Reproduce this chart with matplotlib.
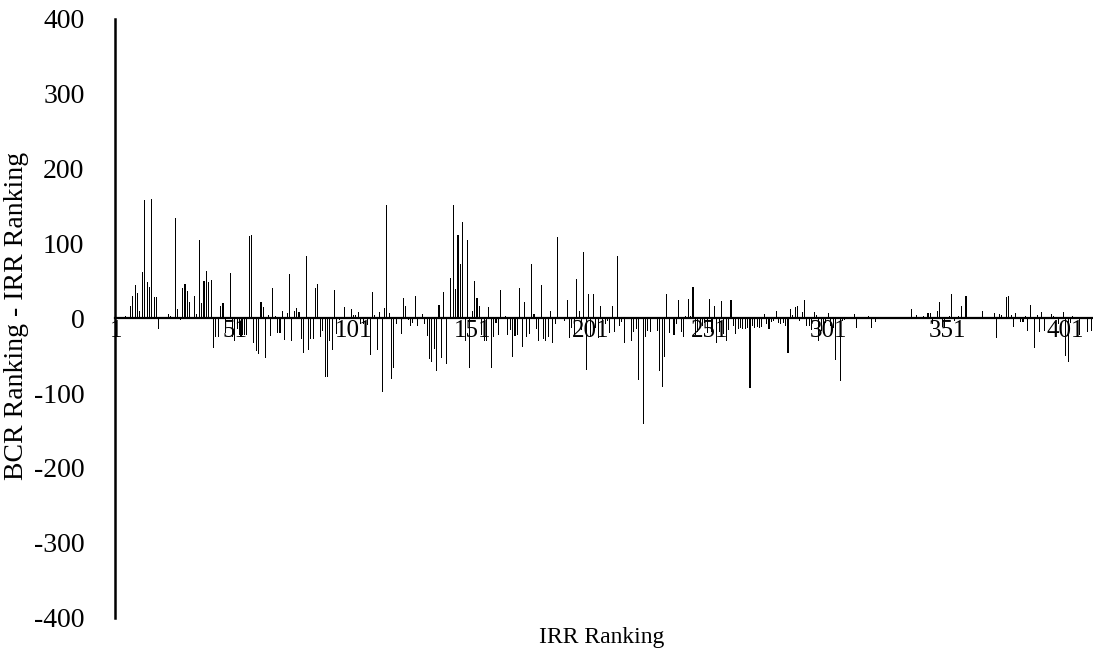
import matplotlib
matplotlib.use("Agg")
import matplotlib.pyplot as plt

plt.rcParams['font.family'] = ['Liberation Serif', 'DejaVu Serif']
plt.rcParams['axes.unicode_minus'] = False

# BCR rank minus IRR rank, one value per project in IRR order
diff_vals = [
    1, 1, 0, 2, 3, 1, 16, 30, 44, 34, 10, 62, 158, 49, 42, 160, 29, 29, -15, 0,
    1, 0, 6, 3, 0, 134, 12, -3, 41, 46, 36, 22, 1, 30, 6, 105, 20, 50, 63, 49,
    51, -40, -25, -25, 16, 20, -20, 2, 60, -25, -31, -14, -23, -23, -22, -22, 110, 111, -33, -44,
    -48, 22, 15, -53, 4, -24, 40, 3, -20, -20, 10, -29, 7, 59, -31, 10, 14, 9, -28, -47,
    83, -42, -28, -28, 41, 46, -25, -17, -78, -78, -31, -43, 38, -21, -2, 0, 15, 2, 2, 13,
    5, 4, 8, -8, -8, 0, -9, -49, 35, 4, -42, 8, -98, 14, 151, 7, -81, -66, -8, 1,
    -21, 27, 16, -2, -10, -7, 30, -10, 0, 6, -8, -24, -54, -59, -41, -70, 18, -53, 35, -61,
    1, 54, 151, 39, 111, 72, 129, -30, 105, -66, 10, 50, 27, 16, -23, -30, -30, 15, -66, -25,
    -6, -22, 38, 0, 3, -22, -16, -52, -24, -22, 40, -38, 22, -25, -21, 72, 6, -14, -30, 45,
    -28, -31, -25, 10, -33, -8, 109, 1, 0, -4, 24, -26, -13, -22, 52, 10, -16, 88, -69, 32,
    -25, 32, -13, -26, 16, -14, -8, -4, -20, 17, -19, 83, -10, -5, -33, 1, 1, -30, -19, -14,
    -82, 2, -141, -25, -17, -18, 2, 0, -17, -71, -92, -52, 33, -20, 1, -23, -8, 25, -19, -25,
    3, 26, 3, 42, -22, -19, -7, -10, -7, -20, 26, -19, 17, -33, -19, 23, -21, -30, -16, 25,
    -11, -21, -14, -13, -14, -14, -13, -93, -11, -13, -12, -13, -12, 6, -8, -14, -5, -4, 10, -7,
    -8, -7, -10, -46, 12, 5, 15, 16, -4, 8, 25, -10, -11, -16, 9, 5, -30, -17, -12, -7,
    7, -10, -13, -56, 2, -84, -4, -3, 0, 2, 0, 6, -13, 1, 2, 0, 0, 3, -13, 0,
    -5, 0, 1, 0, 0, 1, 0, 0, 0, 1, 0, 0, 0, 1, 0, 12, 0, 4, 0, 1,
    3, 0, 7, 7, -8, 0, 10, 22, -12, -13, 0, 3, 33, -4, 0, 3, 16, 0, 30, 0,
    1, 0, 0, 1, 0, 10, 0, 0, 1, 0, 7, -27, 6, 4, 0, 28, 30, 4, -12, 7,
    1, -5, -5, 3, -17, 18, 1, -40, 4, -18, 8, -17, 0, 2, 6, 3, 0, -8, 1, 9,
    -50, -58, -6, 3, 0, 0, -22, 0, 0, -19, 0, -17,
]
irr_rank = list(range(1, len(diff_vals) + 1))
x_ticks = [1, 51, 101, 151, 201, 251, 301, 351, 401]
y_ticks = [-400, -300, -200, -100, 0, 100, 200, 300, 400]

W, H = 1093, 655
fig = plt.figure(figsize=(W / 100, H / 100), dpi=100)
ax = fig.add_axes([115 / W, 1 - 617.5 / H, 1 - 115 / W, (617.5 - 19) / H])

ax.bar(irr_rank, diff_vals, width=0.45, color='black', linewidth=0)

ax.set_xlim(0.5, len(diff_vals) + 0.5)
ax.set_ylim(-400, 400)
ax.set_xticks(x_ticks)
ax.set_xticklabels([str(t) for t in x_ticks])
ax.set_yticks(y_ticks)
ax.set_yticklabels([str(t) for t in y_ticks])

for s in ['top', 'right']:
    ax.spines[s].set_visible(False)
ax.spines['bottom'].set_position(('data', 0))
ax.spines['bottom'].set_linewidth(1.6)
ax.spines['left'].set_linewidth(1.8)
ax.tick_params(axis='both', length=0)
ax.tick_params(axis='y', pad=22, labelsize=20)
ax.tick_params(axis='x', pad=1, labelsize=18)

fig.text(602 / W, 1 - 638 / H, 'IRR Ranking', ha='center', va='center', fontsize=17)
fig.text(17 / W, 1 - 316 / H, 'BCR Ranking - IRR Ranking', ha='center', va='center',
         rotation=90, fontsize=20)

fig.savefig('out.png', dpi=100)
